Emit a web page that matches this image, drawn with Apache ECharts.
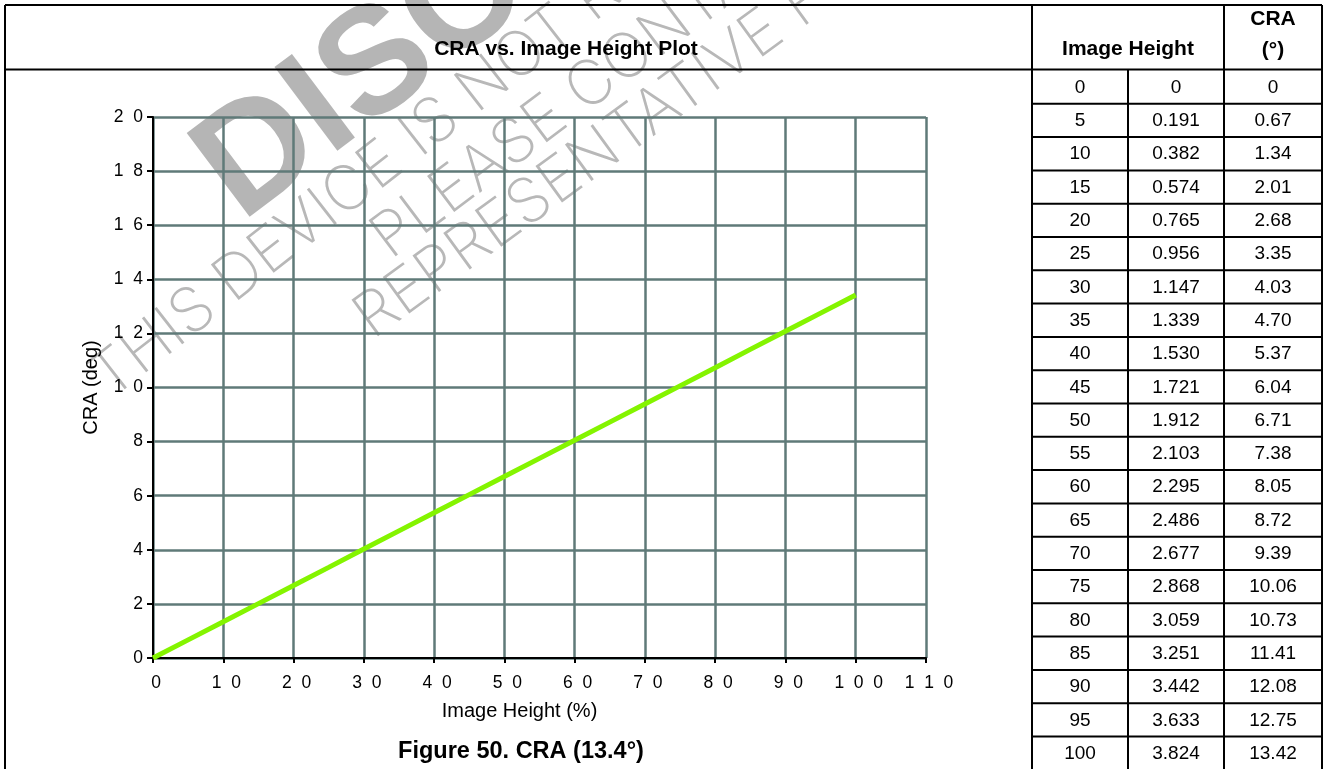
<!DOCTYPE html>
<html>
<head>
<meta charset="utf-8">
<script src="https://cdn.jsdelivr.net/npm/echarts@6/dist/echarts.min.js"></script>
<style>
html,body{margin:0;padding:0;background:#fff;}
#c{width:1325px;height:769px;}
</style>
</head>
<body>
<div id="c"></div>
<script>
// ---- data ----
var imageHeightPct = [0,5,10,15,20,25,30,35,40,45,50,55,60,65,70,75,80,85,90,95,100];
var imageHeightMm = ['0','0.191','0.382','0.574','0.765','0.956','1.147','1.339','1.530','1.721','1.912','2.103','2.295','2.486','2.677','2.868','3.059','3.251','3.442','3.633','3.824'];
var craDeg = ['0','0.67','1.34','2.01','2.68','3.35','4.03','4.70','5.37','6.04','6.71','7.38','8.05','8.72','9.39','10.06','10.73','11.41','12.08','12.75','13.42'];
var xTicks = {min:0, max:110, interval:10};
var yTicks = {min:0, max:20, interval:2};
var chartTitle = 'CRA vs. Image Height Plot';
var figureCaption = 'Figure 50. CRA (13.4\u00b0)';
var xAxisName = 'Image Height (%)';
var yAxisName = 'CRA (deg)';
var tableHeader1 = 'Image Height';
var tableHeader2a = 'CRA';
var tableHeader2b = '(\u00b0)';
var watermark = ['DISCONTINUED','THIS DEVICE IS NOT RECOMMENDED FOR NEW DESIGN','PLEASE CONTACT YOUR ON SEMICONDUCTOR','REPRESENTATIVE FOR INFORMATION'];

// ---- build ----
var seriesData = imageHeightPct.map(function(p,i){return [p, parseFloat(craDeg[i])];});
function spaced(v){return String(v).split('').join('  ');}
var FONT = '"Liberation Sans", Arial, Helvetica, sans-serif';
var LINE = '#000';
var g = [];
var deg = Math.PI/180;
// watermark (under everything)
g.push({type:'text', z:-10, x:262, y:250, rotation:37*deg, style:{text:watermark[0], fill:'#b5b5b5', font:'bold 152px '+FONT, textVerticalAlign:'bottom', textAlign:'left'}});
g.push({type:'text', z:-10, x:118, y:410, rotation:38*deg, style:{text:watermark[1], fill:'#b8b8b8', font:'200 62px Inter', textVerticalAlign:'bottom', textAlign:'left'}});
g.push({type:'text', z:-10, x:398, y:270, rotation:37*deg, style:{text:watermark[2], fill:'#b8b8b8', font:'200 62px Inter', textVerticalAlign:'bottom', textAlign:'left'}});
g.push({type:'text', z:-10, x:380, y:350, rotation:36*deg, style:{text:watermark[3], fill:'#b8b8b8', font:'200 62px Inter', textVerticalAlign:'bottom', textAlign:'left'}});

function hl(x1,x2,y){g.push({type:'line', z:50, shape:{x1:x1,y1:y,x2:x2,y2:y}, style:{stroke:LINE, lineWidth:2}});}
function vl(x,y1,y2){g.push({type:'line', z:50, shape:{x1:x,y1:y1,x2:x,y2:y2}, style:{stroke:LINE, lineWidth:2}});}
var colX = [1032,1128,1224,1322];
var headerY = 69.5, rowTop = 70.5, rowH = 33.3;
hl(5,1322,5); hl(5,1322,headerY);
vl(5,5,769); vl(colX[0],5,769); vl(colX[1],headerY,769); vl(colX[2],5,769); vl(colX[3],5,769);
for (var i=1;i<imageHeightPct.length;i++){ hl(colX[0],colX[3],rowTop+rowH*i); }
// texts
function txt(x,y,s,bold,size){g.push({type:'text', z:60, x:x, y:y, style:{text:s, fill:'#000', font:(bold?'bold ':'normal ')+size+'px '+FONT, textAlign:'center', textVerticalAlign:'middle'}});}
txt(566,49,chartTitle,true,21);
txt(521,752,figureCaption,true,23.5);
txt((colX[0]+colX[2])/2,49,tableHeader1,true,21);
txt((colX[2]+colX[3])/2,19,tableHeader2a,true,21);
txt((colX[2]+colX[3])/2,50,tableHeader2b,true,21);
for (var r=0;r<imageHeightPct.length;r++){
  var cy = rowTop + rowH*r + rowH/2 + 0.5;
  txt((colX[0]+colX[1])/2, cy, String(imageHeightPct[r]), false, 19);
  txt((colX[1]+colX[2])/2, cy, imageHeightMm[r], false, 19);
  txt((colX[2]+colX[3])/2, cy, craDeg[r], false, 19);
}

var chart = echarts.init(document.getElementById('c'), null, {renderer:'canvas'});
chart.setOption({
  backgroundColor:'#fff',
  animation:false,
  grid:{left:153, right:399, top:117, bottom:111, containLabel:false},
  xAxis:{type:'value', min:xTicks.min, max:xTicks.max, interval:xTicks.interval,
    name:xAxisName, nameLocation:'middle', nameGap:43,
    nameTextStyle:{fontFamily:FONT, fontSize:20, color:'#000', padding:[0,40,0,0]},
    axisLine:{show:true, onZero:false, lineStyle:{color:'#000', width:2}},
    axisTick:{show:true, inside:false, length:5, lineStyle:{color:'#000', width:2}},
    axisLabel:{color:'#000', fontFamily:FONT, fontSize:17.5, margin:16, padding:[0,0,0,6], formatter:function(v){return spaced(v);}},
    splitLine:{show:true, lineStyle:{color:'#5f7a78', width:2.5}}
  },
  yAxis:{type:'value', min:yTicks.min, max:yTicks.max, interval:yTicks.interval,
    name:yAxisName, nameLocation:'middle', nameGap:52, nameRotate:90,
    nameTextStyle:{fontFamily:FONT, fontSize:20, color:'#000'},
    axisLine:{show:true, onZero:false, lineStyle:{color:'#000', width:2}},
    axisTick:{show:true, inside:false, length:6, lineStyle:{color:'#000', width:2}},
    axisLabel:{color:'#000', fontFamily:FONT, fontSize:17.5, margin:10, formatter:function(v){return spaced(v);}},
    splitLine:{show:true, lineStyle:{color:'#5f7a78', width:2.5}}
  },
  series:[{type:'line', data:seriesData, showSymbol:false, symbol:'none', z:5,
    lineStyle:{color:'#84f400', width:5}}],
  graphic:{elements:g}
});
</script>
</body>
</html>
